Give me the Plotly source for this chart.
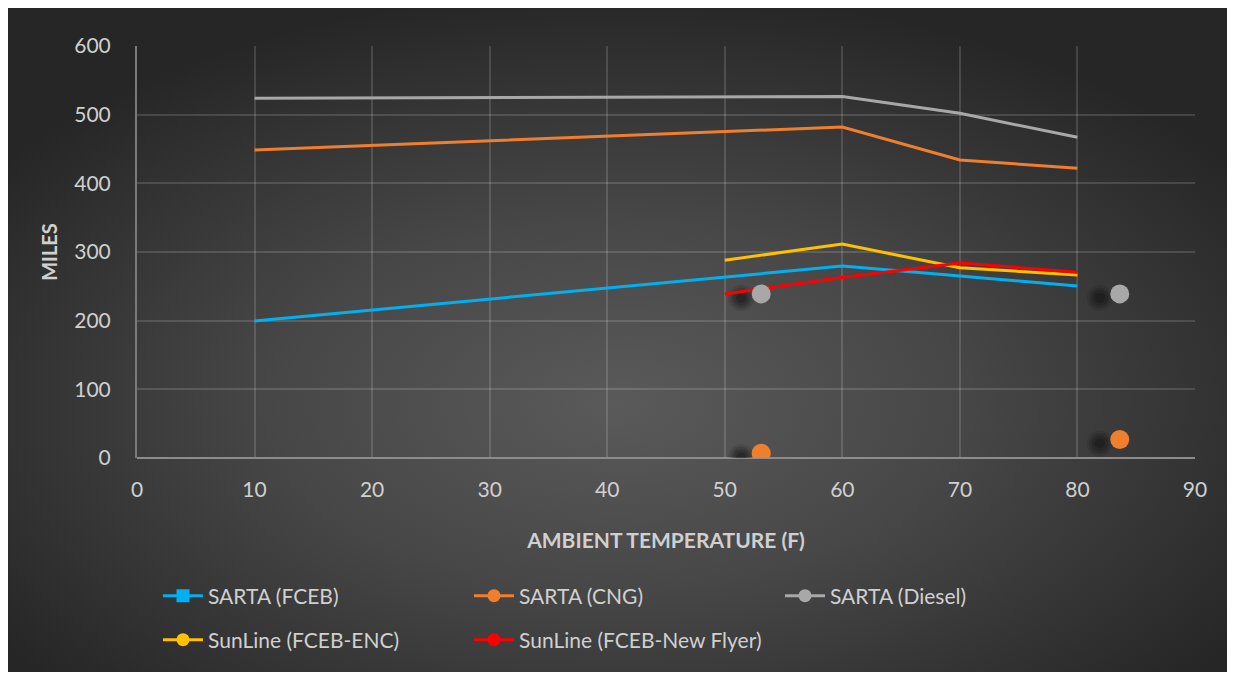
import base64
import plotly.graph_objects as go

# ---- data ----
temps_sarta = [10, 60, 70, 80]
sarta_fceb = [199.5, 279.5, 265, 250.5]
sarta_cng = [448.5, 482, 434, 422]
sarta_diesel = [524, 526.5, 502, 467]

temps_sunline = [50, 60, 70, 80]
sunline_enc = [288, 311.5, 277, 266.5]
sunline_nf = [239, 263, 284, 270.5]

# stray markers present in the chart
cng_pts_x = [53.1, 83.6]
cng_pts_y = [7, 27]
diesel_pts_x = [53.1, 83.6]
diesel_pts_y = [239, 239]

series = [
    ("SARTA (FCEB)", temps_sarta, sarta_fceb, "#00b0f0", "square", "legend"),
    ("SARTA (CNG)", temps_sarta, sarta_cng, "#f07f2d", "circle", "legend"),
    ("SARTA (Diesel)", temps_sarta, sarta_diesel, "#a8a8a8", "circle", "legend"),
    ("SunLine (FCEB-ENC)", temps_sunline, sunline_enc, "#ffc000", "circle", "legend2"),
    ("SunLine (FCEB-New Flyer)", temps_sunline, sunline_nf, "#ff0000", "circle", "legend2"),
]

OFF = 8  # page offset of the figure
W, H = 1227, 667
L, T = 137 - OFF, 46 - OFF
R = W - (1195 - OFF)
B = H - (458 - OFF)
pw, ph = W - L - R, H - T - B
XR = (0, 90)
YR = (0, 600)
ux = pw / (XR[1] - XR[0])
uy = ph / (YR[1] - YR[0])

fig = go.Figure()

# soft shadows of the stray markers (offset in pixels)
sdx, sdy = -20 / ux, -4 / uy
for xs, ys in [(cng_pts_x, cng_pts_y), (diesel_pts_x, diesel_pts_y)]:
    for sz, op in [(26, 0.12), (21, 0.18), (16, 0.25), (10, 0.3)]:
        fig.add_trace(go.Scatter(
            x=[v + sdx for v in xs], y=[v + sdy for v in ys], mode="markers",
            marker=dict(size=sz, color=f"rgba(18,18,18,{op})", line=dict(width=0)),
            showlegend=False, hoverinfo="skip"))

for name, xs, ys, col, sym, lg in series:
    fig.add_trace(go.Scatter(x=xs, y=ys, mode="lines", name=name,
                             line=dict(color=col, width=3), showlegend=False))

fig.add_trace(go.Scatter(x=cng_pts_x, y=cng_pts_y, mode="markers",
                         marker=dict(size=19, color="#f07f2d", line=dict(width=0)),
                         showlegend=False))
fig.add_trace(go.Scatter(x=diesel_pts_x, y=diesel_pts_y, mode="markers",
                         marker=dict(size=19, color="#a8a8a8", line=dict(width=0)),
                         showlegend=False))

# legend entries
for name, xs, ys, col, sym, lg in series:
    fig.add_trace(go.Scatter(x=[None], y=[None], mode="lines+markers", name=name,
                             legend=lg,
                             line=dict(color=col, width=3),
                             marker=dict(color=col, size=13, symbol=sym)))

svg = ("<svg xmlns='http://www.w3.org/2000/svg' width='1221' height='669'>"
       "<defs><radialGradient id='g' cx='0.5' cy='0.6' r='0.62'>"
       "<stop offset='0' stop-color='#5a5a5a'/>"
       "<stop offset='0.45' stop-color='#474747'/>"
       "<stop offset='1' stop-color='#262626'/></radialGradient></defs>"
       "<rect width='1221' height='669' fill='url(#g)'/></svg>")
src = "data:image/svg+xml;base64," + base64.b64encode(svg.encode()).decode()

bx0, by0, bx1, by1 = 7 - OFF, 3 - OFF, 1228 - OFF, 672 - OFF
fig.add_layout_image(dict(
    source=src, xref="paper", yref="paper",
    x=(bx0 - L) / pw, y=1 + (T - by0) / ph,
    sizex=(bx1 - bx0) / pw, sizey=(by1 - by0) / ph,
    xanchor="left", yanchor="top", sizing="stretch", layer="below"))

FONT = "Lato, 'Open Sans', sans-serif"
tickc = "#d0d0d0"
grid = "rgba(255,255,255,0.14)"


def ypaper(px_page):
    return (T + ph - (px_page - OFF)) / ph


legend_common = dict(orientation="h", x=(158 - OFF - L) / pw, xanchor="left",
                     yanchor="middle", entrywidth=256, entrywidthmode="pixels",
                     font=dict(size=21, color=tickc), bgcolor="rgba(0,0,0,0)",
                     itemwidth=40)

fig.update_layout(
    width=W, height=H,
    margin=dict(l=L, r=R, t=T, b=B, autoexpand=False),
    paper_bgcolor="white", plot_bgcolor="rgba(0,0,0,0)",
    font=dict(family=FONT, color=tickc),
    xaxis=dict(range=XR, dtick=10, tick0=0, showgrid=True, gridcolor=grid, gridwidth=1.5,
               zeroline=False, showline=False,
               tickfont=dict(size=21, color=tickc), ticks="outside", ticklen=13,
               tickcolor="rgba(0,0,0,0)",
               title=dict(text="<b>AMBIENT TEMPERATURE (F)</b>", font=dict(size=21, color=tickc),
                          standoff=33)),
    yaxis=dict(range=YR, dtick=100, showgrid=True, gridcolor=grid, gridwidth=1.5,
               zeroline=True, zerolinecolor="#8c8c8c", zerolinewidth=2,
               showline=True, linecolor="#7a7a7a", linewidth=2,
               tickfont=dict(size=21, color=tickc), ticks="outside", ticklen=20,
               tickcolor="rgba(0,0,0,0)",
               title=dict(text="<b>MILES</b>", font=dict(size=20, color=tickc), standoff=11)),
    legend=dict(y=ypaper(596), **legend_common),
    legend2=dict(y=ypaper(640), **legend_common),
    showlegend=True,
)

fig.write_html("out.html")
